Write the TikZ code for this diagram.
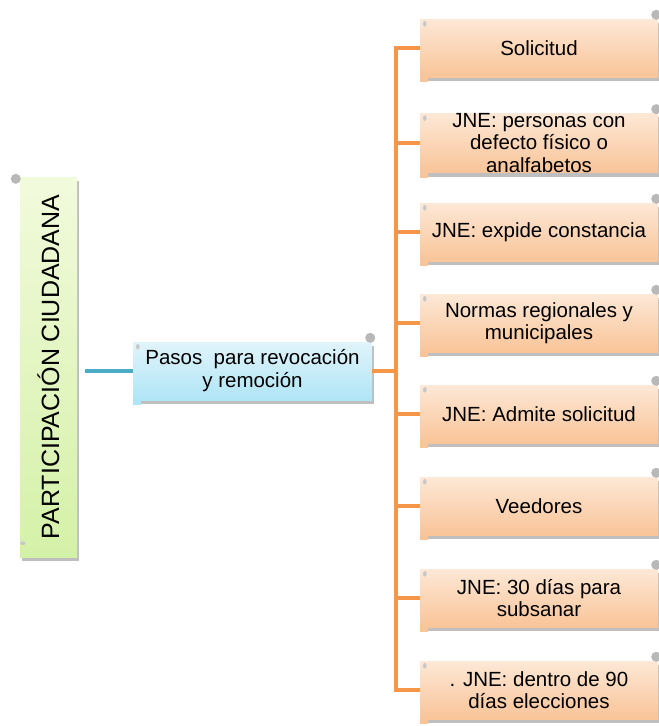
\documentclass[tikz,border=0pt]{standalone}
\usepackage{fontspec}
\setmainfont{Liberation Sans}
\usetikzlibrary{shadows, calc}
\definecolor{branchorange}{RGB}{247,150,70}
\definecolor{stemteal}{RGB}{75,172,198}
\definecolor{leaftop}{RGB}{253,232,214}
\definecolor{leafbot}{RGB}{249,196,152}
\definecolor{midtop}{RGB}{224,244,251}
\definecolor{midbot}{RGB}{176,229,246}
\definecolor{roottop}{RGB}{242,250,220}
\definecolor{rootbot}{RGB}{212,241,168}
\tikzset{scroll/.style={rectangle, inner xsep=4pt, inner ysep=0pt, align=center,
                        drop shadow={shadow xshift=2pt, shadow yshift=-4pt,
                        fill=black, opacity=.25}},
         leaf/.style={scroll, minimum width=238, minimum height=58,
                      top color=leaftop, bottom color=leafbot,
                      font=\fontsize{20.5}{22.5}\selectfont},
         midbox/.style={scroll, minimum width=239, minimum height=58,
                        top color=midtop, bottom color=midbot,
                        font=\fontsize{20.5}{23}\selectfont},
         rootbox/.style={scroll, rotate=90, minimum width=380, minimum height=57,
                         top color=roottop, bottom color=rootbot,
                         font=\fontsize{25}{30}\selectfont},
         curl/.style={fill=black!28},
         dot/.style={fill=black!22},
         branch/.style={draw=branchorange, line width=3.5pt},
         stem/.style={draw=stemteal, line width=4pt}}

\begin{document}
\begin{tikzpicture}[x=1pt, y=-1pt]
      \useasboundingbox (0,0) rectangle (659,726);

      \node[rootbox] (root) at (48.5, 367) {PARTICIPACIÓN CIUDADANA};
      \node[midbox] (pasos) at (252.5, 371) {Pasos\ \ para revocación\\y remoción};

      \node[leaf] (l1) at (539, 48) {Solicitud};
      \node[leaf] (l2) at (539, 143) {JNE: personas con\\defecto físico o\\analfabetos};
      \node[leaf] (l3) at (539, 232) {JNE: expide constancia};
      \node[leaf] (l4) at (539, 323) {Normas regionales y\\municipales};
      \node[leaf] (l5) at (539, 414) {JNE: Admite solicitud};
      \node[leaf] (l6) at (539, 506) {Veedores};
      \node[leaf] (l7) at (539, 598) {JNE: 30 días para\\subsanar};
      \node[leaf] (l8) at (539, 690) {. JNE: dentro de 90\\días elecciones};

      \coordinate (spine) at (396, 371);

      % scroll curls
      \foreach \n in {l1, l2, l3, l4, l5, l6, l7, l8} {
        \fill[curl] ($(\n.north east)+(-2,-4)$) circle (5);
        \fill[dot] ($(\n.north west)+(5,5)$) ellipse (1.8 and 2.8);
        \fill[leafbot] (\n.south west) rectangle +(8,5);
      }
      \fill[curl] ($(pasos.north east)+(-2,-4)$) circle (5);
      \fill[dot] ($(pasos.north west)+(5,5)$) ellipse (1.8 and 2.8);
      \fill[midbot] (pasos.south west) rectangle +(8,5);
      \fill[curl] ($(root.north east)+(-4,2)$) circle (5);
      \fill[dot] ($(root.north west)+(3,-14)$) ellipse (2.8 and 1.8);

      \draw[stem, shorten <=8pt] (pasos.west -| root.south) -- (pasos.west);
      \draw[branch] (pasos) -- (spine);
      \foreach \i in {1,...,8}
        \draw[branch] (spine) |- (l\i);
\end{tikzpicture}
\end{document}
